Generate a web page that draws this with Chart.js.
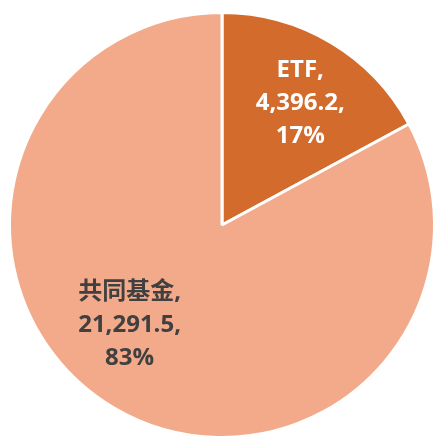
<!DOCTYPE html>
<html>
<head>
<meta charset="utf-8">
<script src="https://cdn.jsdelivr.net/npm/chart.js@4"></script>
<style>
  html, body { margin: 0; padding: 0; background: #fff; }
  #wrap { width: 441px; height: 447px; }
</style>
</head>
<body>
<div id="wrap"><canvas id="myChart" width="441" height="447"></canvas></div>
<script>
// 데이터
var categories = ['ETF', '共同基金'];
var values = [4396.2, 21291.5];
var percentLabels = ['17%', '83%'];
var valueLabels = ['4,396.2', '21,291.5'];

var sliceColors = ['#D26B2C', '#F2AA8B'];
var labelColors = ['#ffffff', '#404040'];
// 라벨 위치 : 중심에서의 거리 비율, 각도 보정(도)
var labelDist = [0.68, 0.64];
var labelAngleShift = [2, 12];

// 슬라이스 안에 라벨을 그려주는 플러그인
var sliceLabelPlugin = {
  id: 'sliceLabels',
  afterDatasetsDraw: function(chart){
    var ctx = chart.ctx;
    var meta = chart.getDatasetMeta(0);
    ctx.save();
    ctx.font = 'bold 24px "Open Sans", "Noto Sans CJK TC", sans-serif';
    ctx.textAlign = 'center';
    ctx.textBaseline = 'middle';
    meta.data.forEach(function(arc, i){
      var p = arc.getProps(['x', 'y', 'startAngle', 'endAngle', 'outerRadius'], true);
      var mid = (p.startAngle + p.endAngle) / 2 + labelAngleShift[i] * Math.PI / 180;
      var r = p.outerRadius * labelDist[i];
      var cx = p.x + Math.cos(mid) * r;
      var cy = p.y + Math.sin(mid) * r;
      var lines = [categories[i] + ',', valueLabels[i] + ',', percentLabels[i]];
      ctx.fillStyle = labelColors[i];
      for(var k=0; k<lines.length; k++){
        ctx.fillText(lines[k], cx, cy + (k - 1) * 33);
      }
    });
    ctx.restore();
  }
};

var ctx = document.getElementById('myChart').getContext('2d');
var myChart = new Chart(ctx, {
  type: 'pie',
  data: {
    labels: categories,
    datasets: [{
      data: values,
      backgroundColor: sliceColors,
      borderColor: '#ffffff',
      borderWidth: 3
    }]
  },
  options: {
    responsive: false,
    animation: false,
    layout: { padding: { left: 8, right: 5, top: 11, bottom: 8 } },
    plugins: {
      legend: { display: false },
      tooltip: { enabled: false }
    }
  },
  plugins: [sliceLabelPlugin]
});
</script>
</body>
</html>
